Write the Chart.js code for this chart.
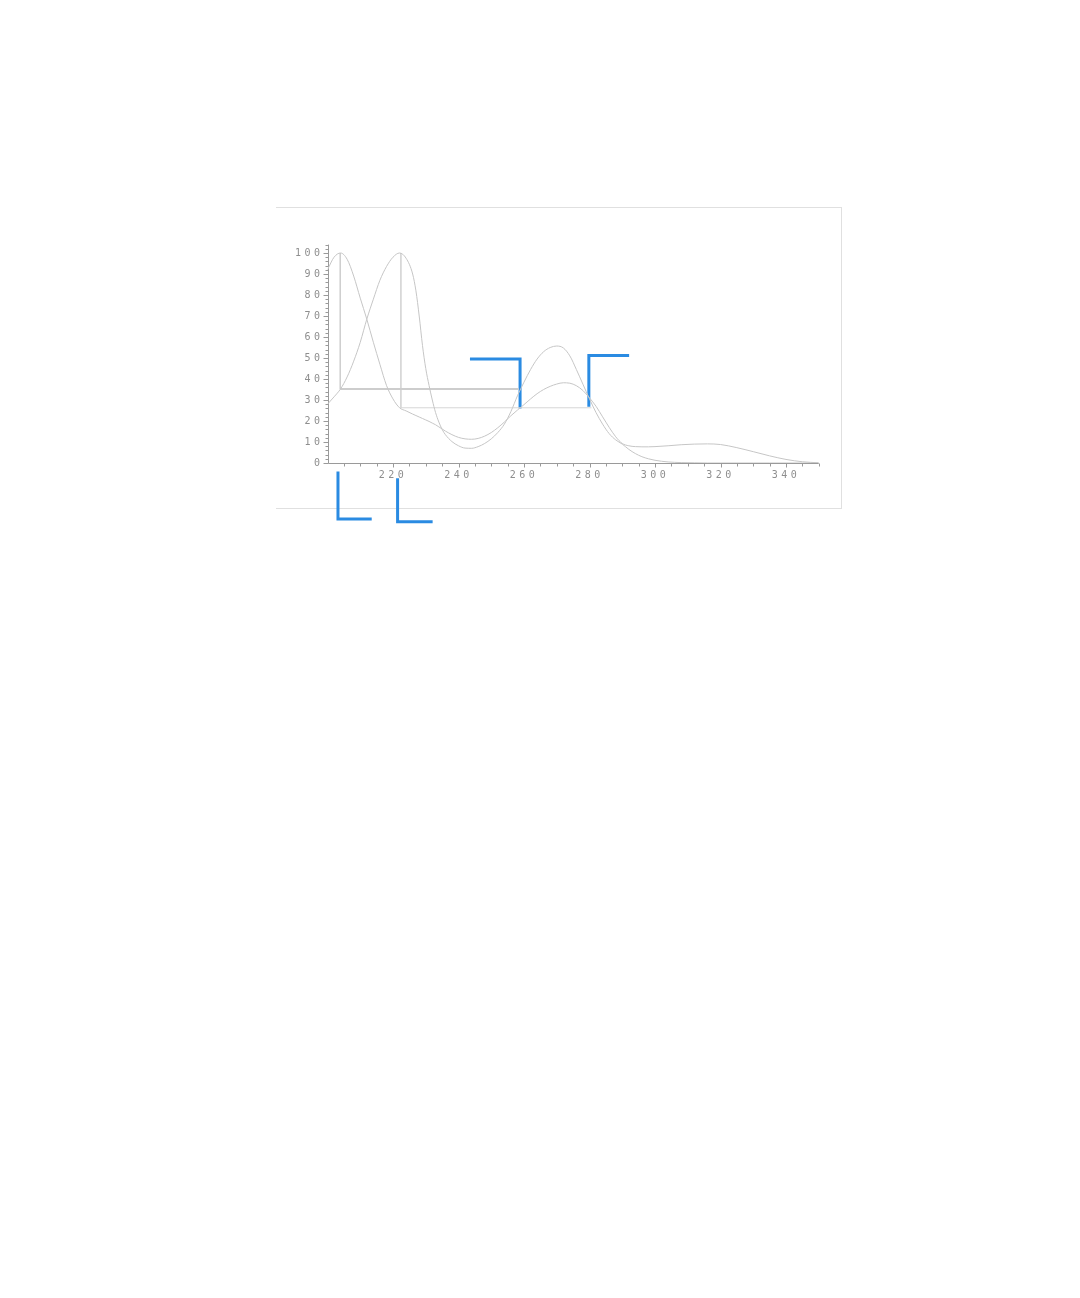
<!DOCTYPE html>
<html>
<head>
<meta charset="utf-8">
<title>UV spectra</title>
<style>
  html, body { margin: 0; padding: 0; background: #fff; }
  #wrap { position: relative; width: 1080px; height: 1298px; }
  #frame {
    position: absolute; left: 276px; top: 207px; width: 565px; height: 300px;
    border-top: 1px solid #e0e0e0; border-right: 1px solid #e0e0e0; border-bottom: 1px solid #e0e0e0;
  }
  #spectrum { position: absolute; left: 0; top: 0; }
</style>
<script src="https://cdn.jsdelivr.net/npm/chart.js@4/dist/chart.umd.min.js"></script>
</head>
<body>
<div id="wrap">
  <div id="frame"></div>
  <canvas id="spectrum" width="1080" height="1298"></canvas>
</div>
<script>
// wavelength (nm) sampled along both traces
const wavelengths = [200, 202, 204, 206, 208, 210, 212, 214, 216, 218, 220, 222, 224, 226, 227, 228, 229, 230,
  231, 232, 233, 234, 235, 236, 238, 240, 242, 244, 246, 248, 250, 252, 254, 256, 258, 260, 262, 264, 266, 268,
  270, 272, 274, 276, 278, 280, 282, 284, 286, 288, 290, 292, 294, 296, 298, 300, 304, 308, 312, 316, 320, 325,
  330, 335, 340, 345, 350];

// relative absorbance, trace with max near 204 nm
const traceA = [92, 98, 100, 97, 89, 78.5, 68.5, 57.5, 47, 37, 30.5, 26.3, 24.8, 23.3, 22.6, 21.9, 21.2, 20.5,
  19.8, 19, 18.2, 17.2, 16.2, 15.2, 13.5, 12.2, 11.5, 11.3, 11.7, 12.8, 14.5, 16.8, 19.5, 22.5, 25.2, 27.8,
  30.5, 33, 35, 36.5, 37.6, 38.2, 38, 36.8, 34.5, 31, 27, 22, 17, 12.5, 9.3, 8.2, 7.8, 7.7, 7.7, 7.8, 8.2,
  8.7, 9, 9.1, 8.8, 7.3, 5.4, 3.4, 1.7, 0.6, 0.1];

// relative absorbance, trace with max near 222 nm
const traceB = [28, 31.5, 35.3, 41, 48.5, 57.5, 68.5, 78, 87, 93.5, 98, 100, 97.5, 90, 82, 70, 56, 45,
  37, 30, 24, 19.5, 16, 13.5, 10.2, 8.2, 7.1, 7, 7.8, 9.3, 11.5, 14.5, 18.5, 24.5, 32, 38.5,
  44.5, 49.5, 53, 55, 55.7, 54.8, 51, 44.5, 37.5, 30.5, 24, 18.5, 14, 11, 9, 6.5, 4.5, 3, 2, 1.3, 0.5,
  0.2, 0.1, 0, 0, 0, 0, 0, 0, 0, 0];

const yTickLabels = [0, 10, 20, 30, 40, 50, 60, 70, 80, 90, 100];
const xTickLabels = [220, 240, 260, 280, 300, 320, 340];

// guide lines drawn from the two maxima
const guideAx = [203.9, 203.9];
const guideAy = [100, 35.2];
const guideAhx = [203.9, 258.4];
const guideAhy = [35.2, 35.2];
const guideBx = [222.4, 222.4, 280.6];
const guideBy = [100, 26.3, 26.3];

// callout leaders
const calloutX = [[243.5, 258.8, 258.8], [279.8, 279.8, 292.1], [203.2, 203.2, 213.5], [221.4, 221.4, 232.1]];
const calloutY = [[49.5, 49.5, 26.0], [26.8, 51.2, 51.2], [-4.1, -26.7, -26.7], [-7.3, -28.0, -28.0]];

const toPoints = (xs, ys) => xs.map((x, i) => ({ x, y: ys[i] }));

const traceColor = '#c6c6c6';
const axisColor = '#9a9a9a';
const labelColor = '#8e8e8e';
const calloutColor = '#2a8be2';

const axesPlugin = {
  id: 'plotterAxes',
  beforeDatasetsDraw(chart) {
    const { ctx, scales: { x, y } } = chart;
    const left = Math.round(x.getPixelForValue(x.min)) + 0.5;
    const right = x.getPixelForValue(x.max);
    const base = Math.round(y.getPixelForValue(0)) + 0.5;
    const top = y.getPixelForValue(y.max);

    ctx.save();
    ctx.strokeStyle = axisColor;
    ctx.lineWidth = 1;
    ctx.beginPath();
    ctx.moveTo(left, top);
    ctx.lineTo(left, base);
    ctx.lineTo(right, base);

    for (let v = 0; v <= y.max; v += 2) {
      const py = Math.round(y.getPixelForValue(v)) + 0.5;
      ctx.moveTo(left - (v % 10 === 0 ? 5 : 3), py);
      ctx.lineTo(left, py);
    }
    for (let v = x.min + 5; v <= x.max; v += 5) {
      const px = Math.round(x.getPixelForValue(v)) + 0.5;
      ctx.moveTo(px, base);
      ctx.lineTo(px, base + (v % 20 === 0 ? 4 : 3));
    }
    ctx.stroke();

    ctx.fillStyle = labelColor;
    ctx.font = '10px "DejaVu Sans Mono", monospace';
    ctx.letterSpacing = '3.5px';
    ctx.textAlign = 'right';
    ctx.textBaseline = 'middle';
    yTickLabels.forEach((v) => {
      ctx.fillText(String(v), left - 5, y.getPixelForValue(v));
    });
    ctx.textAlign = 'center';
    ctx.textBaseline = 'top';
    xTickLabels.forEach((v) => {
      ctx.fillText(String(v), x.getPixelForValue(v), base + 7);
    });
    ctx.restore();
  }
};

const lineSet = (data, color, width, extra) => Object.assign({
  data,
  borderColor: color,
  borderWidth: width,
  pointRadius: 0,
  fill: false,
  tension: 0
}, extra || {});

const datasets = [
  lineSet(toPoints(wavelengths, traceA), traceColor, 1, { cubicInterpolationMode: 'monotone' }),
  lineSet(toPoints(wavelengths, traceB), traceColor, 1, { cubicInterpolationMode: 'monotone' }),
  lineSet(toPoints(guideAx, guideAy), '#cfcfcf', 1),
  lineSet(toPoints(guideAhx, guideAhy), '#cdcdcd', 2),
  lineSet(toPoints(guideBx, guideBy), '#d6d6d6', 1)
];
calloutX.forEach((xs, i) => {
  datasets.push(lineSet(toPoints(xs, calloutY[i]), calloutColor, 3,
    { clip: false, borderCapStyle: 'butt', borderJoinStyle: 'miter' }));
});

new Chart(document.getElementById('spectrum'), {
  type: 'line',
  data: { datasets },
  options: {
    responsive: false,
    animation: false,
    events: [],
    layout: { padding: { left: 327.5, right: 261.25, top: 244.6, bottom: 835 } },
    plugins: { legend: { display: false }, tooltip: { enabled: false } },
    scales: {
      x: { type: 'linear', min: 200, max: 350, display: false },
      y: { type: 'linear', min: 0, max: 104, display: false }
    }
  },
  plugins: [axesPlugin]
});
</script>
</body>
</html>
